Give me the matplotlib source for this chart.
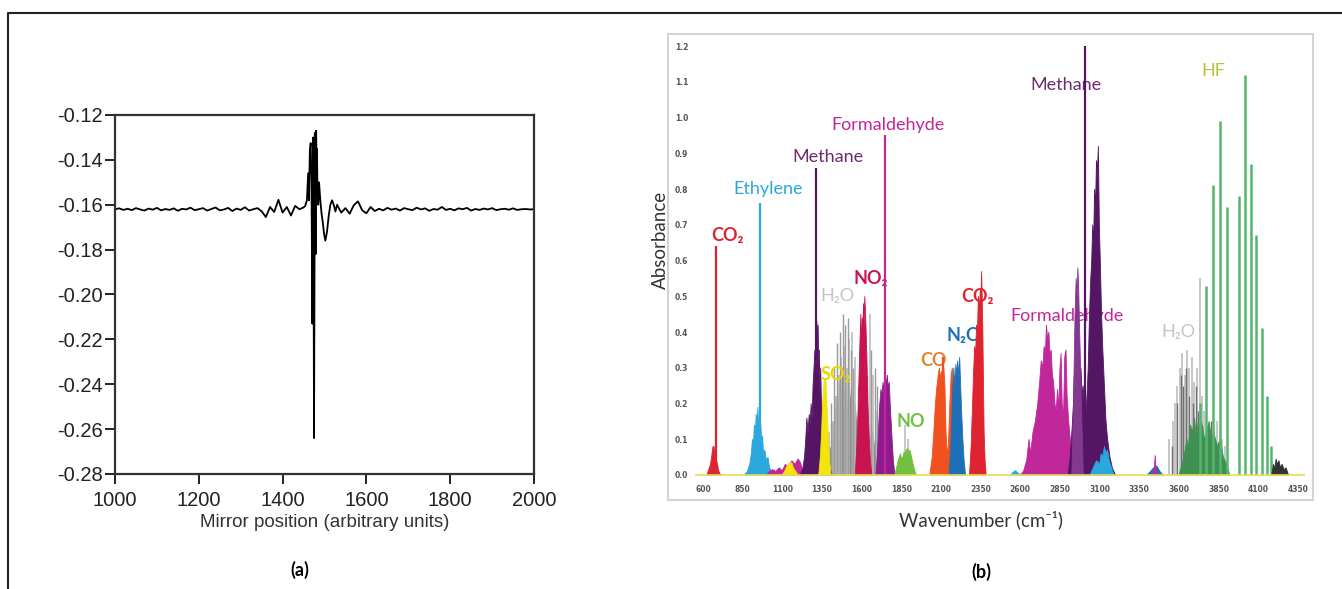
import numpy as np
import matplotlib
matplotlib.use('Agg')
import matplotlib.pyplot as plt
from matplotlib.patches import Rectangle
from matplotlib.lines import Line2D

plt.rcParams['axes.unicode_minus'] = False

W, H = 1342, 589

# ---------------- (a) interferogram ----------------
pos_left = list(range(1000, 1451, 10))
sig_left = [-162.0, -161.6, -162.3, -161.8, -162.4, -161.5, -162.1, -162.6, -161.7, -162.2,
            -161.4, -162.5, -161.9, -162.3, -161.6, -162.7, -161.8, -162.1, -161.3, -162.4,
            -162.0, -161.5, -162.6, -161.9, -161.2, -162.5, -162.1, -161.4, -162.8, -161.7,
            -162.3, -161.1, -162.6, -162.0, -161.5,
            -162.9, -165.5, -161.0, -163.2, -157.8, -163.5, -161.0, -164.8, -160.5, -162.0, -161.2]
pos_mid = [1454, 1458, 1461, 1463, 1465, 1467, 1469, 1471, 1472, 1473, 1474, 1475, 1476,
           1477, 1478, 1479, 1480, 1481, 1482, 1483, 1485, 1487, 1490, 1493, 1496, 1499,
           1502, 1506, 1510, 1514, 1518, 1522, 1526]
sig_mid = [-160.5, -158, -146, -158, -136, -132.5, -150, -213, -150, -130, -190, -264, -200,
           -128, -160, -182, -127, -140, -135, -150, -160, -150, -158, -164, -168, -173,
           -176, -172, -165, -160, -158, -160, -163]
pos_right = list(range(1530, 2001, 10))
sig_right = [-160.0, -163.5, -161.5, -164.0, -160.2, -158.5, -162.5, -163.8, -161.0, -162.8,
             -161.8, -162.5, -161.4, -162.2, -161.7, -162.6, -161.5, -162.0, -162.4, -161.3,
             -162.1, -161.6, -162.7, -161.9, -162.2, -161.0, -162.3, -161.8, -162.5, -161.6,
             -162.0, -161.4, -162.6, -161.9, -162.3, -161.7, -162.1, -161.5, -162.4, -162.0,
             -161.8, -162.2, -161.6, -162.3, -162.0, -161.9, -162.1, -162.0]

# ---------------- (b) absorbance spectra ----------------
# broad bands, outline points (wavenumber, absorbance)
co2a_w = [625, 640, 648, 655, 660, 664, 670, 674, 680, 686, 692, 700, 712]
co2a_a = [0, 0.02, 0.03, 0.05, 0.07, 0.08, 0.08, 0.06, 0.07, 0.04, 0.03, 0.01, 0]
eth_w = [860, 880, 895, 905, 912, 918, 924, 930, 936, 942, 946, 950, 955, 960, 965, 970,
         976, 982, 990, 1000, 1010, 1020, 1035, 1050]
eth_a = [0, 0.01, 0.03, 0.06, 0.1, 0.08, 0.14, 0.12, 0.17, 0.15, 0.19, 0.1, 0.18, 0.13,
         0.14, 0.09, 0.11, 0.06, 0.07, 0.04, 0.05, 0.02, 0.01, 0]
misc_w = [1000, 1020, 1040, 1060, 1080, 1100, 1120, 1140, 1160, 1180, 1200, 1215, 1235]
misc_a = [0, 0.01, 0.015, 0.01, 0.02, 0.012, 0.03, 0.02, 0.04, 0.03, 0.045, 0.035, 0]
so2a_w = [1100, 1115, 1130, 1140, 1150, 1160, 1170, 1185, 1200]
so2a_a = [0, 0.01, 0.025, 0.035, 0.03, 0.035, 0.02, 0.01, 0]
meth1_w = [1215, 1230, 1240, 1248, 1255, 1262, 1270, 1276, 1282, 1288, 1294, 1300, 1306,
           1312, 1318, 1322, 1326, 1330, 1334, 1338, 1342, 1348, 1355, 1362, 1370, 1380,
           1390, 1400, 1415]
meth1_a = [0, 0.02, 0.05, 0.1, 0.16, 0.12, 0.17, 0.14, 0.2, 0.16, 0.25, 0.3, 0.35, 0.28,
           0.43, 0.38, 0.42, 0.3, 0.35, 0.22, 0.3, 0.18, 0.2, 0.1, 0.12, 0.05, 0.06, 0.02, 0]
so2b_w = [1330, 1340, 1348, 1354, 1360, 1365, 1370, 1375, 1380, 1386, 1392, 1400, 1408]
so2b_a = [0, 0.05, 0.12, 0.2, 0.24, 0.27, 0.25, 0.27, 0.22, 0.15, 0.08, 0.03, 0]
h2oa_w = [1385, 1400, 1410, 1420, 1430, 1440, 1450, 1460, 1470, 1480, 1490, 1500, 1510,
          1520, 1530, 1540, 1550, 1560, 1575, 1590, 1610, 1630, 1650, 1670, 1690, 1710]
h2oa_a = [0, 0.08, 0.05, 0.15, 0.1, 0.22, 0.14, 0.26, 0.18, 0.3, 0.2, 0.27, 0.16, 0.28,
          0.2, 0.24, 0.12, 0.2, 0.1, 0.15, 0.08, 0.18, 0.1, 0.12, 0.05, 0]
h2o_light_w = [1395, 1418, 1436, 1456, 1472, 1490, 1507, 1522, 1540, 1556, 1590, 1612,
               1653, 1670, 1695, 1717, 1750, 1772, 1872, 1890]
h2o_light_a = [0.12, 0.15, 0.22, 0.28, 0.33, 0.36, 0.3, 0.38, 0.4, 0.33, 0.2, 0.22, 0.45,
               0.28, 0.18, 0.2, 0.1, 0.12, 0.14, 0.1]
h2o_dark_w = [1405, 1428, 1445, 1465, 1480, 1498, 1515, 1530, 1548, 1576, 1600, 1636,
              1662, 1684, 1700, 1735]
h2o_dark_a = [0.2, 0.3, 0.37, 0.4, 0.45, 0.42, 0.44, 0.35, 0.3, 0.25, 0.32, 0.28, 0.35,
              0.3, 0.25, 0.15]
no2_w = [1560, 1570, 1578, 1585, 1590, 1595, 1600, 1604, 1608, 1612, 1616, 1620, 1625,
         1630, 1635, 1640, 1648, 1655, 1665]
no2_a = [0, 0.08, 0.18, 0.3, 0.38, 0.45, 0.35, 0.44, 0.4, 0.48, 0.42, 0.5, 0.45, 0.38,
         0.3, 0.2, 0.1, 0.04, 0]
form1_w = [1690, 1700, 1708, 1715, 1722, 1728, 1735, 1740, 1745, 1750, 1756, 1762, 1768,
           1774, 1780, 1786, 1792, 1800, 1810]
form1_a = [0, 0.06, 0.14, 0.2, 0.24, 0.22, 0.26, 0.23, 0.27, 0.28, 0.25, 0.28, 0.24, 0.26,
           0.2, 0.15, 0.1, 0.04, 0]
no_w = [1810, 1820, 1830, 1838, 1845, 1852, 1860, 1868, 1875, 1882, 1890, 1897, 1905,
        1912, 1920, 1930, 1945]
no_a = [0, 0.02, 0.04, 0.05, 0.06, 0.045, 0.05, 0.065, 0.055, 0.07, 0.075, 0.06, 0.07,
        0.055, 0.04, 0.02, 0]
co_w = [2030, 2045, 2055, 2065, 2075, 2083, 2090, 2097, 2104, 2110, 2118, 2125, 2132,
        2140, 2148, 2156, 2164, 2172, 2180, 2188, 2196, 2205, 2215, 2225]
co_a = [0, 0.05, 0.12, 0.2, 0.25, 0.28, 0.3, 0.27, 0.29, 0.22, 0.3, 0.25, 0.12, 0.05,
        0.1, 0.2, 0.28, 0.3, 0.22, 0.28, 0.2, 0.1, 0.04, 0]
n2o_w = [2150, 2160, 2168, 2175, 2182, 2188, 2194, 2200, 2206, 2212, 2218, 2224, 2230,
         2238, 2246, 2255]
n2o_a = [0, 0.06, 0.15, 0.25, 0.3, 0.22, 0.31, 0.28, 0.32, 0.27, 0.33, 0.25, 0.18, 0.1,
         0.04, 0]
co2b_w = [2280, 2290, 2298, 2305, 2312, 2318, 2324, 2330, 2336, 2342, 2348, 2352, 2356,
          2360, 2364, 2368, 2372, 2378, 2385]
co2b_a = [0, 0.08, 0.18, 0.28, 0.36, 0.33, 0.42, 0.4, 0.5, 0.46, 0.52, 0.48, 0.57, 0.5,
          0.4, 0.25, 0.12, 0.04, 0]
eth2a_w = [2540, 2555, 2570, 2585, 2600]
eth2a_a = [0, 0.008, 0.012, 0.006, 0]
form2_w = [2600, 2620, 2640, 2655, 2665, 2680, 2695, 2710, 2722, 2732, 2742, 2750, 2758,
           2765, 2772, 2780, 2788, 2795, 2802, 2810, 2818, 2826, 2835, 2842, 2850, 2857,
           2864, 2872, 2880, 2888, 2895, 2905, 2915, 2930, 2950, 2975]
form2_a = [0, 0.01, 0.04, 0.1, 0.06, 0.12, 0.15, 0.2, 0.26, 0.32, 0.3, 0.36, 0.34, 0.42,
           0.38, 0.4, 0.33, 0.35, 0.28, 0.26, 0.2, 0.18, 0.24, 0.18, 0.3, 0.34, 0.2, 0.16,
           0.33, 0.35, 0.22, 0.15, 0.1, 0.06, 0.03, 0]
meth2l_w = [2925, 2935, 2945, 2952, 2958, 2963, 2968, 2974, 2980, 2988, 2998]
meth2l_a = [0, 0.2, 0.45, 0.55, 0.5, 0.58, 0.52, 0.4, 0.3, 0.15, 0]
meth2_w = [2900, 2915, 2925, 2935, 2942, 2948, 2955, 2962, 2968, 2975, 2982, 2990, 2996,
           3002, 3010, 3020, 3028, 3036, 3044, 3050, 3056, 3062, 3068, 3074, 3080, 3086,
           3092, 3098, 3104, 3112, 3120, 3130, 3140, 3150, 3165, 3180, 3200]
meth2_a = [0, 0.05, 0.12, 0.2, 0.3, 0.26, 0.36, 0.3, 0.34, 0.28, 0.3, 0.22, 0.25, 0.2,
           0.15, 0.22, 0.3, 0.45, 0.55, 0.6, 0.7, 0.65, 0.8, 0.75, 0.88, 0.85, 0.92, 0.7,
           0.6, 0.45, 0.35, 0.25, 0.15, 0.1, 0.05, 0.02, 0]
eth2_w = [3040, 3060, 3080, 3100, 3110, 3120, 3130, 3140, 3150, 3160, 3175, 3190]
eth2_a = [0, 0.02, 0.04, 0.03, 0.06, 0.05, 0.08, 0.06, 0.07, 0.04, 0.02, 0]
blip_w = [3400, 3420, 3440, 3460, 3480, 3500]
blip_a = [0, 0.01, 0.02, 0.025, 0.01, 0]
blipm_w = [3435, 3445, 3450, 3455, 3465]
blipm_a = [0, 0.02, 0.055, 0.02, 0]
h2o2_light_w = [3540, 3560, 3575, 3590, 3605, 3620, 3635, 3650, 3665, 3680, 3695, 3712,
                3730, 3745, 3760, 3790, 3840, 3870, 3890]
h2o2_light_a = [0.1, 0.15, 0.2, 0.25, 0.3, 0.34, 0.28, 0.35, 0.3, 0.33, 0.26, 0.3, 0.55,
                0.22, 0.18, 0.12, 0.15, 0.1, 0.08]
h2o2_dark_w = [3555, 3585, 3610, 3628, 3645, 3660, 3690, 3705, 3720, 3740, 3775, 3800,
               3830, 3850]
h2o2_dark_a = [0.08, 0.2, 0.28, 0.25, 0.3, 0.22, 0.2, 0.25, 0.18, 0.15, 0.12, 0.15, 0.1, 0.08]
hfb_w = [3600, 3620, 3635, 3650, 3660, 3672, 3685, 3698, 3710, 3722, 3735, 3748, 3760,
         3775, 3790, 3805, 3820, 3840, 3860, 3880, 3900, 3920]
hfb_a = [0, 0.03, 0.06, 0.1, 0.08, 0.14, 0.12, 0.16, 0.1, 0.15, 0.12, 0.14, 0.1, 0.12,
         0.15, 0.1, 0.12, 0.08, 0.1, 0.05, 0.03, 0]
tail_w = [4185, 4195, 4205, 4212, 4220, 4230, 4240, 4250, 4262, 4275, 4290]
tail_a = [0, 0.03, 0.02, 0.045, 0.03, 0.04, 0.02, 0.03, 0.015, 0.02, 0]

# sharp lines
hf_w = [3730, 3768, 3812, 3858, 3900, 3978, 4018, 4054, 4085, 4121, 4152, 4180]
hf_a = [0.2, 0.53, 0.81, 0.99, 0.75, 0.78, 1.12, 0.87, 0.67, 0.41, 0.22, 0.08]
q_w = [680, 958, 1312, 1747, 3008, 2115]
q_a = [0.64, 0.76, 0.86, 0.95, 1.2, 0.33]

wn_ticks = list(range(600, 4351, 250))
ab_ticks = [0.0, 0.1, 0.2, 0.3, 0.4, 0.5, 0.6, 0.7, 0.8, 0.9, 1.0, 1.1, 1.2]

RED = '#dd2430'
BLUE = '#2aa8de'
PURP = '#541565'
LPURP = '#83398f'
MAG = '#c0279a'
FPURP = '#8d1d8f'
YEL = '#f3e50a'
CRIM = '#c9134f'
GRN = '#72c040'
ORG = '#f0521f'
NBLUE = '#1d70b7'
LGREY = '#bdbdbd'
DGREY = '#707070'
HFG = '#55b56d'


def px(x, y):
    # pixel (from top-left) -> figure fraction
    return x / W, 1 - y / H


fig = plt.figure(figsize=(W / 100, H / 100), dpi=100)

# outer border (top and left)
fig.add_artist(Line2D([8 / W, 8 / W, 1], [0, 1 - 13 / H, 1 - 13 / H],
                      transform=fig.transFigure, color='#222222', lw=1.5))

# ----- panel a -----
axa = fig.add_axes([115 / W, 1 - 474 / H, (534 - 115) / W, (474 - 115) / H])
xa = pos_left + pos_mid + pos_right
ya = np.array(sig_left + sig_mid + sig_right) / 1000.0
axa.plot(xa, ya, color='black', lw=1.3)
axa.set_xlim(1000, 2000)
axa.set_ylim(-0.28, -0.12)
axa.set_xticks([1000, 1200, 1400, 1600, 1800, 2000])
axa.set_yticks(np.round(np.arange(-0.28, -0.119, 0.02), 2))
axa.yaxis.set_major_formatter(matplotlib.ticker.FormatStrFormatter('%.2f'))
for s in axa.spines.values():
    s.set_linewidth(1.6)
    s.set_color('#333333')
axa.tick_params(direction='out', length=7, width=1.4, labelsize=14.5, colors='#222222')
axa.tick_params(axis='y', pad=2)
axa.tick_params(axis='x', pad=5)
for lab in axa.get_xticklabels() + axa.get_yticklabels():
    lab.set_family('Liberation Sans')
axa.set_xlabel('Mirror position (arbitrary units)', fontsize=13.5, family='Liberation Sans',
               color='#333333', labelpad=3)
fig.text(*px(300, 570), '(a)', ha='center', va='center', fontsize=13,
         family='Lato', weight='bold')

# ----- panel b -----
fig.add_artist(Rectangle(px(668, 500), (1313 - 668) / W, (500 - 34) / H,
                         transform=fig.transFigure, fill=False,
                         edgecolor='#d4d4d4', lw=1.5))
axb = fig.add_axes([695 / W, 1 - 478 / H, (1305 - 695) / W, (478 - 40) / H])
axb.set_xlim(550, 4394)
axb.set_ylim(-0.0084, 1.2168)
for s in axb.spines.values():
    s.set_visible(False)


def band(w, a, c, z=3):
    axb.fill(w, a, color=c, lw=0.6, zorder=z)


band(h2oa_w, h2oa_a, '#8a8a8a', 2)
axb.vlines(h2o_light_w, 0, h2o_light_a, color=LGREY, lw=1.2, zorder=2)
axb.vlines(h2o_dark_w, 0, h2o_dark_a, color='#9a9a9a', lw=1.0, zorder=2)
axb.vlines(h2o2_light_w, 0, h2o2_light_a, color=LGREY, lw=1.2, zorder=2)
axb.vlines(h2o2_dark_w, 0, h2o2_dark_a, color=DGREY, lw=1.0, zorder=2)
band(hfb_w, hfb_a, '#3f9053', 2.5)
axb.vlines(hf_w, 0, hf_a, color=HFG, lw=1.8, zorder=3)

band(co2a_w, co2a_a, RED)
band(eth_w, eth_a, BLUE)
band(misc_w, misc_a, MAG)
band(so2a_w, so2a_a, YEL)
band(meth1_w, meth1_a, PURP)
band(so2b_w, so2b_a, YEL)
band(no2_w, no2_a, CRIM)
band(form1_w, form1_a, FPURP)
band(no_w, no_a, GRN)
band(co_w, co_a, ORG)
band(n2o_w, n2o_a, NBLUE)
band(co2b_w, co2b_a, RED)
band(eth2a_w, eth2a_a, BLUE)
band(form2_w, form2_a, MAG)
band(meth2_w, meth2_a, PURP)
band(meth2l_w, meth2l_a, LPURP)
band(eth2_w, eth2_a, BLUE)
band(blip_w, blip_a, NBLUE)
band(blipm_w, blipm_a, MAG)
band(tail_w, tail_a, '#333333')

axb.vlines(q_w, 0, q_a, color=[RED, BLUE, PURP, MAG, PURP, ORG], lw=1.6, zorder=4)
axb.axhline(0, color='#e6dc55', lw=1.2, zorder=4)

axb.set_xticks(wn_ticks)
axb.set_yticks(ab_ticks)
axb.set_yticklabels(['%.1f' % v for v in ab_ticks])
axb.tick_params(length=0, labelsize=5.5, colors='#555555', pad=5)
for lab in axb.get_xticklabels() + axb.get_yticklabels():
    lab.set_fontweight('bold')

fam = ['Lato', 'DejaVu Sans']
labels = [
    (757, 0.67, 'CO₂', RED, 'bold', 2.5),
    (1010, 0.80, 'Ethylene', BLUE, 'normal', 2.5),
    (1388, 0.89, 'Methane', '#6d2b72', 'normal', 2.5),
    (1766, 0.98, 'Formaldehyde', MAG, 'normal', 2.5),
    (1445, 0.50, 'H₂O', '#c4c4c4', 'normal', 5),
    (1659, 0.55, 'NO₂', CRIM, 'bold', 2.5),
    (1438, 0.28, 'SO₂', '#e8d800', 'bold', 5),
    (1911, 0.15, 'NO', GRN, 'bold', 2.5),
    (2056, 0.32, 'CO', '#e3832e', 'bold', 2.5),
    (2245, 0.39, 'N₂O', NBLUE, 'bold', 2.5),
    (2333, 0.50, 'CO₂', RED, 'bold', 2.5),
    (2894, 0.445, 'Formaldehyde', MAG, 'normal', 2.5),
    (2888, 1.09, 'Methane', '#6d2b72', 'normal', 2.5),
    (3594, 0.40, 'H₂O', '#c4c4c4', 'normal', 2.5),
    (3814, 1.13, 'HF', '#b8c236', 'normal', 2.5),
]
for x, y, t, c, wgt, z in labels:
    axb.text(x, y, t, color=c, fontsize=13, family=fam, weight=wgt,
             ha='center', va='center', zorder=z)

fig.text(*px(660, 240), 'Absorbance', rotation=90, ha='center', va='center',
         fontsize=13.5, family='Lato', color='#333333')
fig.text(*px(981, 520), 'Wavenumber (cm⁻¹)', ha='center', va='center',
         fontsize=13.5, family=fam, color='#333333')
fig.text(*px(981, 572), '(b)', ha='center', va='center', fontsize=13,
         family='Lato', weight='bold')

fig.savefig('out.png', dpi=100)
